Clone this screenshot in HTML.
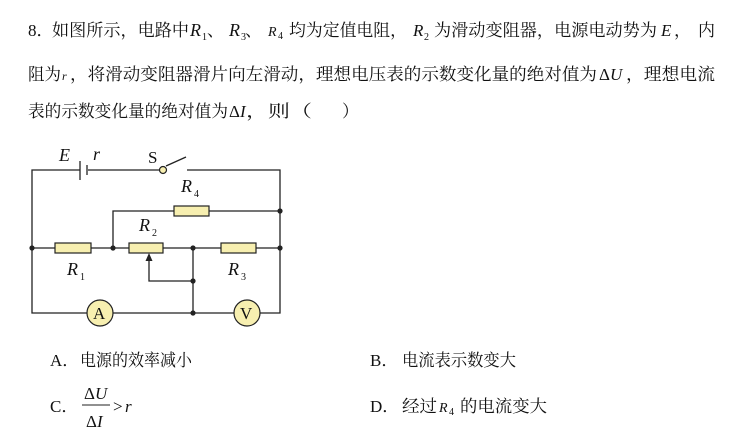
<!DOCTYPE html>
<html><head><meta charset="utf-8"><style>
html,body{margin:0;padding:0;background:#fff;}
svg{display:block;}
text{font-family:"Liberation Serif","Noto Serif CJK SC",serif;font-size:17px;fill:#111;}
.i{font-style:italic;}
.s{font-size:10px;}
</style></head><body>
<svg width="746" height="434" viewBox="0 0 746 434" xmlns="http://www.w3.org/2000/svg">
<!-- line 1 -->
<text x="28" y="36">8．</text>
<text x="52" y="36" textLength="137" lengthAdjust="spacingAndGlyphs">如图所示，电路中</text>
<text x="190" y="36" class="i" style="font-size:18px">R</text><text x="202" y="40" class="s">1</text>
<text x="207" y="36">、</text>
<text x="229" y="36" class="i" style="font-size:18px">R</text><text x="241" y="40" class="s">3</text>
<text x="245" y="36">、</text>
<text x="268" y="36" class="i" style="font-size:14px">R</text><text x="278" y="39" class="s">4</text>
<text x="289" y="36" textLength="118" lengthAdjust="spacingAndGlyphs">均为定值电阻，</text>
<text x="413" y="36" class="i">R</text><text x="424" y="40" class="s">2</text>
<text x="434" y="36" textLength="223" lengthAdjust="spacingAndGlyphs">为滑动变阻器，电源电动势为</text>
<text x="661" y="36" class="i">E</text>
<text x="674" y="36">，</text>
<text x="698" y="36">内</text>
<!-- line 2 -->
<text x="28" y="80" textLength="33" lengthAdjust="spacingAndGlyphs">阻为</text>
<text x="62" y="80" class="i" style="font-size:12px">r</text>
<text x="70" y="80" textLength="527" lengthAdjust="spacingAndGlyphs">，将滑动变阻器滑片向左滑动，理想电压表的示数变化量的绝对值为</text>
<text x="599" y="80">Δ<tspan class="i">U</tspan></text>
<text x="626" y="80" textLength="89" lengthAdjust="spacingAndGlyphs">，理想电流</text>
<!-- line 3 -->
<text x="28" y="117" textLength="200" lengthAdjust="spacingAndGlyphs">表的示数变化量的绝对值为</text>
<text x="229" y="117">Δ<tspan class="i">I</tspan></text>
<text x="246" y="117" textLength="66" lengthAdjust="spacingAndGlyphs">，则（</text>
<text x="342" y="117">）</text>

<!-- circuit -->
<g stroke="#222" stroke-width="1.3" fill="none">
<polyline points="80,170 32,170 32,313 87,313"/>
<line x1="88" y1="170" x2="162" y2="170"/>
<line x1="80" y1="161" x2="80" y2="180"/>
<line x1="87" y1="165" x2="87" y2="175"/>
<line x1="166" y1="166" x2="186" y2="157"/>
<polyline points="187,170 280,170 280,313 260,313"/>
<line x1="113" y1="313" x2="234" y2="313"/>
<polyline points="113,248 113,211 174,211"/>
<line x1="209" y1="211" x2="280" y2="211"/>
<line x1="32" y1="248" x2="55" y2="248"/>
<line x1="91" y1="248" x2="129" y2="248"/>
<line x1="163" y1="248" x2="221" y2="248"/>
<line x1="256" y1="248" x2="280" y2="248"/>
<line x1="193" y1="248" x2="193" y2="313"/>
<polyline points="193,281 149,281 149,258"/>
</g>
<polygon points="149,253 145.5,261 152.5,261" fill="#222"/>
<circle cx="163" cy="170" r="3.5" fill="#f7efb0" stroke="#222" stroke-width="1.2"/>
<g fill="#f7efb0" stroke="#222" stroke-width="1.2">
<rect x="55" y="243" width="36" height="10"/>
<rect x="129" y="243" width="34" height="10"/>
<rect x="221" y="243" width="35" height="10"/>
<rect x="174" y="206" width="35" height="10"/>
<circle cx="100" cy="313" r="13"/>
<circle cx="247" cy="313" r="13"/>
</g>
<g fill="#222">
<circle cx="32" cy="248" r="2.6"/><circle cx="113" cy="248" r="2.6"/>
<circle cx="193" cy="248" r="2.6"/><circle cx="280" cy="248" r="2.6"/>
<circle cx="280" cy="211" r="2.6"/><circle cx="193" cy="281" r="2.6"/>
<circle cx="193" cy="313" r="2.6"/>
</g>
<text x="93" y="319" style="font-size:17px">A</text>
<text x="240" y="319" style="font-size:17px">V</text>
<text x="59" y="161" class="i" style="font-size:18px">E</text>
<text x="93" y="160" class="i" style="font-size:18px">r</text>
<text x="148" y="163" style="font-size:17px">S</text>
<text x="181" y="192" class="i" style="font-size:18px">R</text><text x="194" y="197" class="s">4</text>
<text x="139" y="231" class="i" style="font-size:18px">R</text><text x="152" y="236" class="s">2</text>
<text x="67" y="275" class="i" style="font-size:18px">R</text><text x="80" y="280" class="s">1</text>
<text x="228" y="275" class="i" style="font-size:18px">R</text><text x="241" y="280" class="s">3</text>

<!-- options -->
<text x="50" y="366">A．</text>
<text x="80" y="366" textLength="112" lengthAdjust="spacingAndGlyphs">电源的效率减小</text>
<text x="370" y="366">B．</text>
<text x="402" y="366" textLength="114" lengthAdjust="spacingAndGlyphs">电流表示数变大</text>
<text x="50" y="412">C．</text>
<text x="84" y="399">Δ<tspan class="i">U</tspan></text>
<line x1="82" y1="405" x2="110" y2="405" stroke="#222" stroke-width="1"/>
<text x="86" y="427">Δ<tspan class="i">I</tspan></text>
<text x="113" y="412">&gt;</text><text x="125" y="412" class="i">r</text>
<text x="370" y="412">D．</text>
<text x="402" y="412" textLength="35" lengthAdjust="spacingAndGlyphs">经过</text>
<text x="439" y="412" class="i" style="font-size:14px">R</text><text x="449" y="415" class="s">4</text>
<text x="460" y="412" textLength="87" lengthAdjust="spacingAndGlyphs">的电流变大</text>
</svg>
</body></html>
